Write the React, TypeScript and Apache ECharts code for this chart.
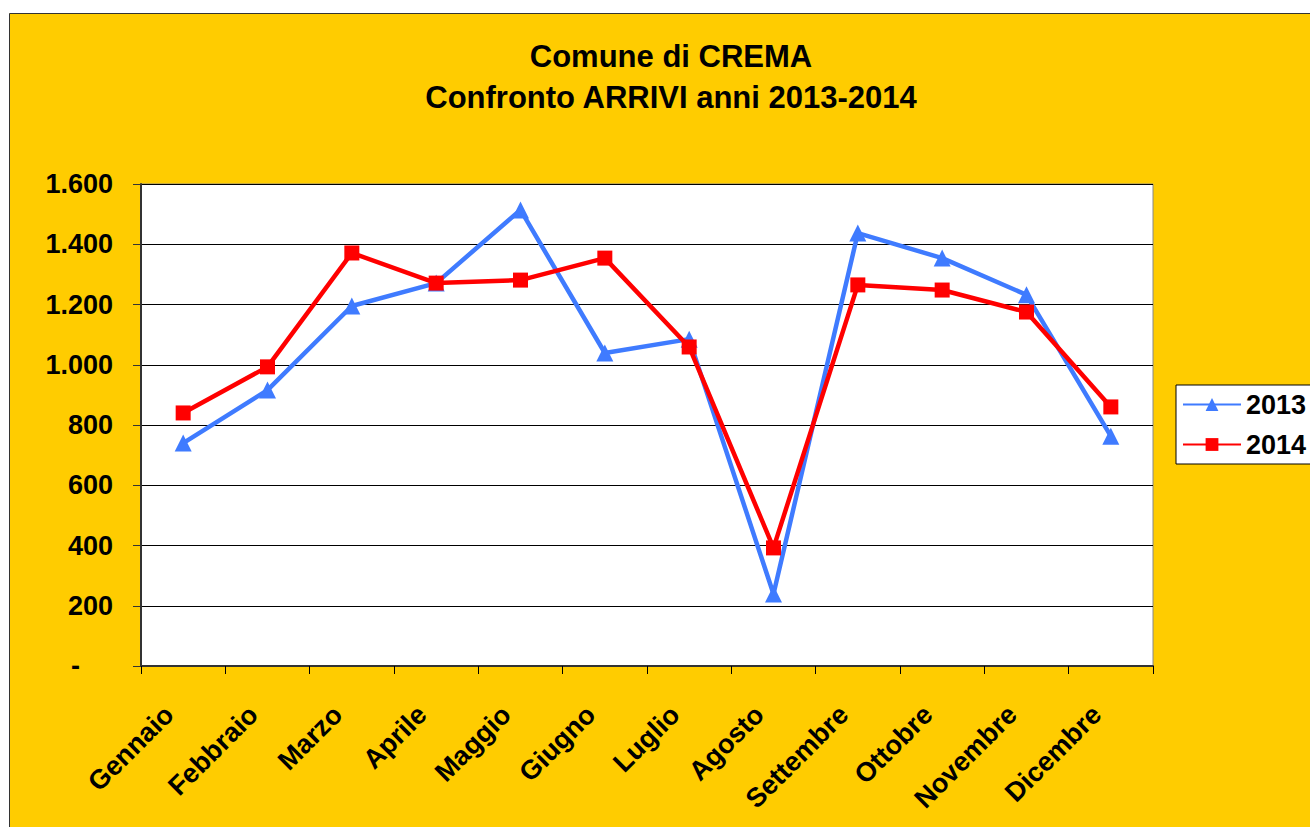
import React, { useEffect, useRef } from "react";
import * as echarts from "echarts";

const months = ["Gennaio", "Febbraio", "Marzo", "Aprile", "Maggio", "Giugno", "Luglio", "Agosto", "Settembre", "Ottobre", "Novembre", "Dicembre"];
const arrivi2013 = [740, 916, 1195, 1271, 1514, 1039, 1085, 239, 1437, 1354, 1232, 763];
const arrivi2014 = [840, 993, 1371, 1271, 1281, 1354, 1059, 392, 1265, 1248, 1175, 860];
const titleLines = ["Comune di CREMA", "Confronto ARRIVI anni 2013-2014"];

const fmtThousands = (v: number) => {
  if (v === 0) return "{z|-}";
  const s = String(Math.round(v));
  return s.replace(/\B(?=(\d{3})+(?!\d))/g, ".");
};

export default function App() {
  const ref = useRef<HTMLDivElement>(null);
  useEffect(() => {
    if (!ref.current) return;
    const chart = echarts.init(ref.current, undefined, { renderer: "svg" });
    const font = "Liberation Sans, Arial, sans-serif";
    chart.setOption({
      animation: false,
      backgroundColor: "#ffffff",
      textStyle: { fontFamily: font },
      graphic: [
        {
          type: "rect",
          z: -10,
          shape: { x: 9.5, y: 13.5, width: 1320, height: 830 },
          style: { fill: "#FFCC00", stroke: "#333333", lineWidth: 1 },
        },
      ],
      title: {
        text: titleLines.join("\n"),
        left: 666,
        textAlign: "center",
        top: 31,
        textStyle: { fontSize: 31, fontWeight: "bold", color: "#000", lineHeight: 41, fontFamily: font },
      },
      legend: {
        left: 1176,
        top: 385,
        orient: "vertical",
        backgroundColor: "#ffffff",
        borderColor: "#000000",
        borderWidth: 1,
        borderRadius: 0,
        padding: [6, 10, 6, 6],
        itemGap: 13,
        itemWidth: 58,
        itemHeight: 16,
        textStyle: { fontSize: 27, fontWeight: "bold", color: "#000", fontFamily: font },
        data: ["2013", "2014"],
      },
      grid: {
        left: 141,
        top: 184,
        width: 1012,
        height: 482,
        show: true,
        backgroundColor: "#ffffff",
        borderColor: "#888888",
        borderWidth: 1,
      },
      xAxis: {
        type: "category",
        data: months,
        boundaryGap: true,
        axisLine: { show: true, lineStyle: { color: "#333333", width: 2 } },
        axisTick: { show: true, alignWithLabel: false, length: 8, lineStyle: { color: "#000" } },
        axisLabel: {
          interval: 0,
          rotate: 45,
          margin: 30,
          padding: [0, 20, 0, 0],
          fontSize: 27,
          fontWeight: "bold",
          color: "#000",
          fontFamily: font,
        },
      },
      yAxis: {
        type: "value",
        min: 0,
        max: 1600,
        interval: 200,
        axisLine: { show: true, lineStyle: { color: "#333333", width: 2 } },
        axisTick: { show: true, length: 8, inside: false, lineStyle: { color: "#333" } },
        splitLine: { show: true, lineStyle: { color: "#000000", width: 1 } },
        axisLabel: {
          formatter: fmtThousands,
          fontSize: 27,
          fontWeight: "bold",
          color: "#000",
          margin: 28,
          fontFamily: font,
          rich: {
            z: { fontSize: 27, fontWeight: "bold", color: "#000", padding: [0, 33, 0, 0], fontFamily: font },
          },
        },
      },
      series: [
        {
          name: "2013",
          type: "line",
          data: arrivi2013,
          color: "#3F7BFF",
          lineStyle: { width: 4.5, color: "#3F7BFF" },
          symbol: "triangle",
          symbolSize: 17,
          itemStyle: { color: "#3F7BFF" },
          z: 2,
        },
        {
          name: "2014",
          type: "line",
          data: arrivi2014,
          color: "#FF0000",
          lineStyle: { width: 4.5, color: "#FF0000" },
          symbol: "rect",
          symbolSize: 15,
          itemStyle: { color: "#FF0000" },
          z: 3,
        },
      ],
    });
    return () => chart.dispose();
  }, []);
  return <div ref={ref} style={{ position: "absolute", left: 0, top: 0, width: 1310, height: 827 }} />;
}
